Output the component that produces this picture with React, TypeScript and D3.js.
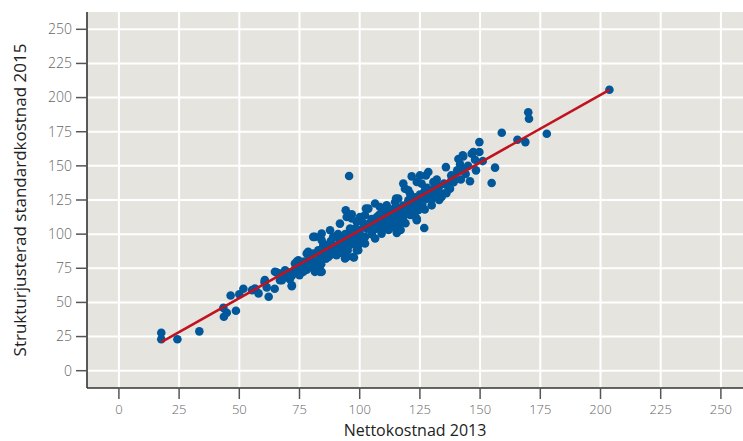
import React from "react";
import * as d3 from "d3";

// Nettokostnad 2013 (x) vs strukturjusterad standardkostnad 2015 (y), per kommun
const nettokostnad2013: number[] = [
  17.6, 17.6, 24.3, 33.4, 43.4, 43.6, 44.8, 48.6, 46.4, 50, 51.7, 55.3, 56.6, 58, 60.5, 62.2, 61.4, 64.7, 65.5, 67.7,
  69.7, 66.9, 69, 71.8, 73.1, 74.5, 76.6, 78, 80.1, 80.7, 81.4, 83.5, 84.2, 84.9, 84.2, 87.7, 89, 89.7, 91.8, 93.9,
  94.6, 96, 97.3, 98.8, 99.4, 100.1, 102.2, 95.6, 94.2, 102.6, 96.7, 115.4, 126.8, 106.4, 102.2, 123.7, 109.1,
  142.8, 141.7, 135.8, 140.7, 128.5, 127.5, 121.6, 123.7, 125.7, 130.6, 118.1, 118.8, 131.3, 137.5, 134.7, 134,
  129.9, 120.9, 116, 114.7, 120.2, 127.1, 106.4, 103.6, 124.3, 121.6, 110.5,
  203.7, 170, 170.3, 159, 177.7, 165.5, 168.8, 149.7, 147.2, 149.7, 146.5, 143, 147.9, 151.1, 140.5, 148.3, 156.2,
  145.8, 154.8,
  125, 120.2, 115.1, 108.4, 111.2, 96.7, 98.8, 102.2, 107.1, 113.3, 118.1, 122.3, 123.7, 111.2, 105.6, 109.1, 102.2,
  99.4, 97.6, 94.6, 90.4, 89, 91.8, 84.2, 81.4, 84.9, 87, 82.8, 80.7, 78.6, 81.4, 83.5, 79.4, 73.8, 75.2, 71.8,
  69.9, 66.9, 64.8, 60.6, 56.5,
  104, 105, 106, 107, 108, 108, 109, 110, 110, 111, 111, 112, 112, 113, 113, 114, 114, 115, 115, 116, 116, 117, 117,
  118, 118, 119, 119, 120, 120, 121, 121, 122, 122, 123, 123, 124, 124, 125, 125, 126, 126, 127, 127, 128, 128, 129,
  130, 130, 131, 132, 133, 133, 135, 136, 138, 139, 144, 142, 103, 101, 100, 99, 105, 107, 112, 114, 116, 119, 117,
  82, 83, 84, 85, 86, 86, 87, 88, 88, 89, 90, 90, 91, 91, 92, 92, 93, 93, 94, 94, 95, 95, 96, 96, 97, 97, 98, 98,
  99, 100, 100, 101, 76, 77, 79, 80, 72, 73, 75, 70, 68, 71, 74, 78,
  132, 136, 139, 143, 145, 141, 138,
];

const standardkostnad2015: number[] = [
  27.8, 23, 23, 28.8, 46, 39.5, 42.4, 43.9, 55.1, 56, 60, 59, 59.5, 56.6, 64.8, 54.1, 61, 60, 72, 66.3,
  68.7, 71.2, 73.6, 62.6, 78.5, 80.9, 72.4, 85.8, 80.9, 98, 72.4, 83.3, 100.4, 91.9, 72.4, 102.9, 98, 85.8, 107.7, 82.2,
  112.6, 104.1, 83.3, 88.2, 91.9, 112.6, 106.5, 142.6, 117.5, 118.7, 114.5, 100.9, 104.5, 96.8, 93.1, 111.4, 102.8,
  157.7, 151.1, 149.1, 146.2, 145.5, 143, 142.3, 138.2, 137, 138.2, 137, 133.3, 134.5, 133.3, 129.7, 127.2,
  121.1, 129.7, 126, 123.5, 124.8, 129.7, 122.4, 118.7, 117.5, 119.9, 118.7,
  205.7, 189.3, 184.5, 174.3, 173.5, 169.1, 167.4, 167.4, 160.1, 160.1, 158.9, 156.9, 154.5, 153.5, 146.7, 146.7, 148.7,
  138.7, 137.4,
  143, 132.1, 126, 119.9, 121.1, 111.4, 108.9, 113.8, 112.6, 113.8, 116.2, 113.8, 110.2, 105.3, 102.8, 100.4, 98,
  88.2, 82.9, 83.3, 84.6, 88.2, 95.5, 95.5, 98, 90.6, 83.3, 88.2, 85.8, 87, 76, 72.4, 76, 79.7, 73.6, 61.9,
  68.7, 66.3, 72.4, 66.3, 60.2,
  108, 111, 106, 109, 114, 107, 111, 109, 115, 112, 108, 116, 110, 107, 118, 112, 109, 116, 120, 113, 110, 118, 114,
  121, 111, 119, 115, 122, 117, 114, 126, 119, 123, 116, 127, 121, 124, 129, 120, 125, 122, 132, 118, 126, 134, 130,
  126, 132, 128, 131, 135, 125, 137, 130, 139, 142, 144, 140, 104, 109, 103, 101, 100, 104, 103, 105, 107, 108, 103,
  80, 85, 78, 87, 82, 92, 89, 85, 95, 92, 90, 98, 87, 100, 93, 89, 97, 86, 91, 100, 95, 88, 92, 98, 101, 95, 93, 104,
  97, 95, 100, 98, 76, 80, 82, 78, 70, 74, 70, 72, 70, 67, 76, 74,
  140, 136, 138, 147, 150, 155, 143,
];

// Fitted regression line y = intercept + slope * x
const fitIntercept = 3.53;
const fitSlope = 0.9925;

const xTicks: number[] = [0, 25, 50, 75, 100, 125, 150, 175, 200, 225, 250];
const yTicks: number[] = [0, 25, 50, 75, 100, 125, 150, 175, 200, 225, 250];

const xTitle = "Nettokostnad 2013";
const yTitle = "Strukturjusterad standardkostnad 2015";

const W = 743;
const H = 441;
const panel = { left: 87, right: 760, top: 12, bottom: 388 };

export default function App() {
  const x = d3.scaleLinear().domain([0, 250]).range([118.9, 720.9]);
  const y = d3.scaleLinear().domain([0, 250]).range([370.7, 29.3]);

  const points = nettokostnad2013.map((v, i) => [v, standardkostnad2015[i]] as [number, number]);
  const [x0, x1] = d3.extent(nettokostnad2013) as [number, number];
  const fitLine = d3
    .line<number>()
    .x((d) => x(d))
    .y((d) => y(fitIntercept + fitSlope * d))([x0, x1]);

  const tickFont = "'Open Sans', 'DejaVu Sans', sans-serif";

  return (
    <svg
      width={W}
      height={H}
      style={{ position: "absolute", left: 0, top: 0, background: "#ffffff" }}
    >
      <rect
        x={panel.left}
        y={panel.top}
        width={panel.right - panel.left}
        height={panel.bottom - panel.top}
        fill="#e5e4de"
      />
      {/* grid */}
      {xTicks.map((t) => (
        <line key={`gx${t}`} x1={x(t)} x2={x(t)} y1={panel.top} y2={panel.bottom} stroke="#ffffff" strokeWidth={2} />
      ))}
      {yTicks.map((t) => (
        <line key={`gy${t}`} x1={panel.left} x2={panel.right} y1={y(t)} y2={y(t)} stroke="#ffffff" strokeWidth={2} />
      ))}

      {/* points */}
      {points.map(([a, b], i) => (
        <circle key={i} cx={x(a)} cy={y(b)} r={4.3} fill="#00589b" />
      ))}

      {/* regression line */}
      <path d={fitLine ?? ""} fill="none" stroke="#c1121f" strokeWidth={2.6} />

      {/* axes */}
      <line x1={panel.left} x2={panel.left} y1={panel.top} y2={panel.bottom} stroke="#333333" strokeWidth={1.6} />
      <line x1={panel.left} x2={panel.right} y1={panel.bottom} y2={panel.bottom} stroke="#333333" strokeWidth={1.6} />

      {yTicks.map((t) => (
        <g key={`ty${t}`}>
          <line x1={76} x2={panel.left} y1={y(t)} y2={y(t)} stroke="#555555" strokeWidth={1.5} />
          <text
            x={72}
            y={y(t)}
            dy="0.35em"
            textAnchor="end"
            fontFamily={tickFont}
            fontWeight={300}
            fontSize={14}
            fill="#666666"
          >
            {t}
          </text>
        </g>
      ))}
      {xTicks.map((t) => (
        <g key={`tx${t}`}>
          <line x1={x(t)} x2={x(t)} y1={panel.bottom} y2={399} stroke="#555555" strokeWidth={1.5} />
          <text
            x={x(t)}
            y={414}
            textAnchor="middle"
            fontFamily={tickFont}
            fontWeight={300}
            fontSize={13}
            fill="#666666"
          >
            {t}
          </text>
        </g>
      ))}

      <text
        x={(panel.left + W) / 2}
        y={436}
        textAnchor="middle"
        fontFamily={tickFont}
        fontSize={16}
        fill="#222222"
      >
        {xTitle}
      </text>
      <text
        transform={`translate(26, ${(panel.top + panel.bottom) / 2}) rotate(-90)`}
        textAnchor="middle"
        fontFamily={tickFont}
        fontSize={17}
        fill="#222222"
      >
        {yTitle}
      </text>
    </svg>
  );
}
